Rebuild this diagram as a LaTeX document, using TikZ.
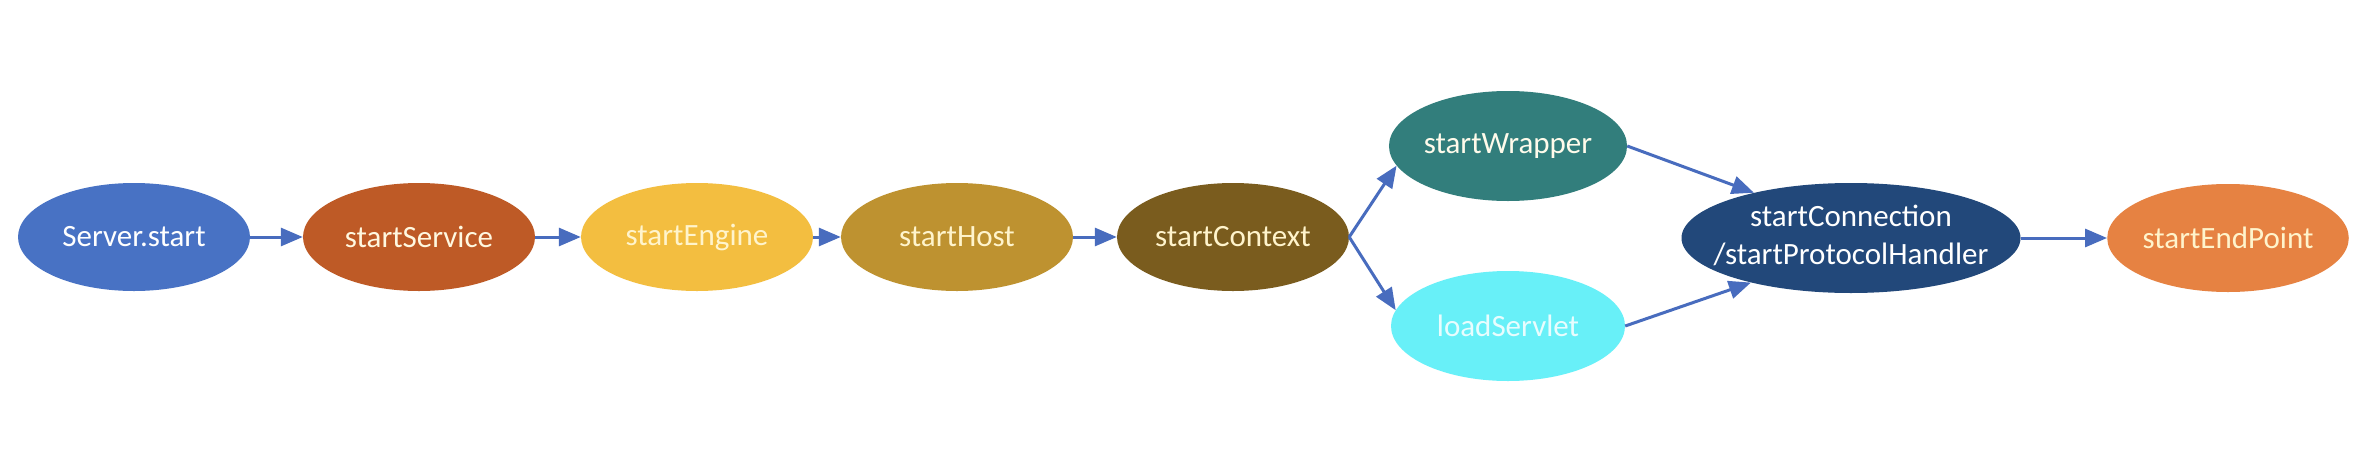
\documentclass[tikz,border=0pt]{standalone}
\usepackage{fontspec}
\setmainfont{Carlito}
\usetikzlibrary{shapes.geometric,arrows.meta}
\definecolor{cServer}{RGB}{72,114,196}
\definecolor{cService}{RGB}{190,90,38}
\definecolor{cEngine}{RGB}{243,190,64}
\definecolor{cHost}{RGB}{190,146,48}
\definecolor{cContext}{RGB}{122,92,30}
\definecolor{cWrapper}{RGB}{50,126,124}
\definecolor{cServlet}{RGB}{104,240,248}
\definecolor{cConn}{RGB}{34,72,122}
\definecolor{cEnd}{RGB}{230,130,66}
\definecolor{cArrow}{RGB}{72,108,190}
\definecolor{cLightText}{RGB}{255,244,204}
\tikzset{
  oval/.style={ellipse, draw=none, inner sep=0pt, minimum width=232pt, minimum height=108pt,
    font=\fontsize{31}{38}\selectfont, text=white, align=center},
  flow/.style={draw=cArrow, line width=3pt, -{Triangle[length=22pt,width=18pt]}},
}
\begin{document}
\begin{tikzpicture}[x=1pt,y=-1pt]
\useasboundingbox (0,0) rectangle (2364,466);
\fill[white] (0,0) rectangle (2364,466);
\node[oval, fill=cServer] (server) at (134,237) {Server.start};
\node[oval, fill=cService, text=cLightText!60!white] (service) at (419,237) {startService};
\node[oval, fill=cEngine, text=cLightText] (engine) at (697,237) {startEngine};
\node[oval, fill=cHost, text=cLightText] (host) at (957,237) {startHost};
\node[oval, fill=cContext, text=cLightText] (context) at (1233,237) {startContext};
\node[oval, fill=cWrapper, minimum width=236pt, minimum height=110pt, text=cLightText!40!white] (wrapper) at (1508,146) {startWrapper};
\node[oval, fill=cServlet, minimum width=234pt, minimum height=110pt, text=white!85!cServlet] (servlet) at (1508,326) {loadServlet};
\node[oval, fill=cConn, minimum width=339pt, minimum height=110pt] (conn) at (1851,238)
  {\makebox[0pt]{\begin{tabular}{@{}c@{}}startConnection\\/startProtocolHandler\end{tabular}}};
\node[oval, fill=cEnd, minimum width=233pt, text=cLightText] (endp) at (2228,238) {startEndPoint};
\draw[flow] (server.east) -- (service.west);
\draw[flow] (service.east) -- (engine.west);
\draw[flow] (engine.east) -- (host.west);
\draw[flow] (host.east) -- (context.west);
\draw[flow] (context.east) -- (wrapper.190);
\draw[flow] (context.east) -- (servlet.172);
\draw[flow] (wrapper.east) -- (conn.155);
\draw[flow] (servlet.east) -- (conn.204);
\draw[flow] (conn.east) -- (endp.west);
\end{tikzpicture}
\end{document}
